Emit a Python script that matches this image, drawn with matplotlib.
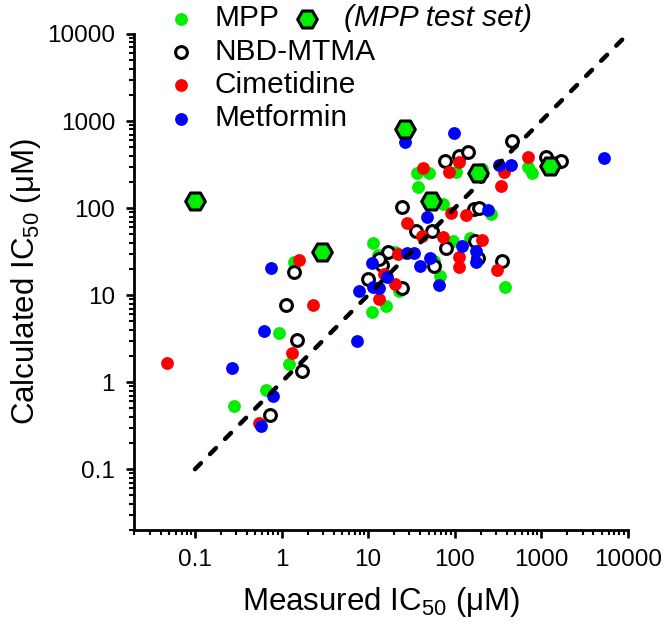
import matplotlib
matplotlib.use("Agg")
import matplotlib.pyplot as plt
from matplotlib.ticker import FixedLocator, LogLocator, NullFormatter

plt.rcParams['font.family'] = ['Liberation Sans', 'DejaVu Sans']
plt.rcParams['mathtext.fontset'] = 'custom'
plt.rcParams['mathtext.rm'] = 'Liberation Sans'
plt.rcParams['mathtext.default'] = 'regular'

# measured vs calculated IC50 (uM)
mpp_x = [36.4, 50.1, 103, 205, 697, 774, 37.4, 72.7, 260, 11.3, 94.8, 149, 20.3, 12.9,
         57.2, 67.1, 378, 22.6, 11.0, 16.0, 1.38, 0.93, 1.21, 0.67, 0.28]
mpp_y = [252, 252, 259, 280, 295, 252, 174, 111, 85, 39.5, 41.7, 45, 31.2, 28.8,
         24.6, 16.5, 12.4, 11.1, 6.4, 7.5, 23.9, 3.66, 1.61, 0.81, 0.53]

nbd_x = [455, 76.6, 111, 141, 1124, 1675, 24.4, 166, 189, 35.5, 54.2, 78.7, 170, 16.8,
         14.4, 57.2, 184, 349, 9.9, 24.4, 1.12, 1.38, 1.50, 1.71, 0.73, 13.3]
nbd_y = [588, 346, 395, 439, 385, 346, 102.6, 97, 99.8, 54.3, 54.3, 34.7, 41.7, 31.2,
         22.1, 21.5, 26.6, 24.6, 15.3, 12.0, 7.7, 18.4, 3.04, 1.34, 0.42, 25.9]

cim_x = [111, 42.7, 85.3, 368, 697, 340, 89.9, 134, 27.9, 41.6, 72.7, 205, 22.0, 111,
         111, 305, 15.1, 20.3, 13.3, 2.29, 1.58, 1.31, 0.047, 0.55]
cim_y = [337, 288, 259, 259, 385, 179, 87.5, 83, 67, 47.6, 46.4, 42.8, 29.6, 27.3,
         21, 19.4, 17.4, 13.4, 9.0, 7.7, 25.2, 2.15, 1.65, 0.34]

met_x = [26.5, 97.3, 322, 443, 5250, 47.5, 240, 120, 27.9, 33.6, 51.4, 175, 175, 39.4,
         11.0, 16.4, 65.3, 7.8, 11.3, 13.3, 7.4, 0.75, 0.62, 0.27, 0.79, 0.58]
met_y = [572, 726, 311, 311, 375, 78.7, 94.7, 36.5, 30.4, 30.4, 26.6, 32, 23.9, 21.5,
         23.3, 16.1, 13.0, 11.1, 12.4, 12.0, 2.96, 20.4, 3.86, 1.45, 0.69, 0.31]

test_x = [0.1, 2.91, 26.5, 52.8, 184, 1250]
test_y = [120, 31.2, 807, 120, 252, 303]

unity = [0.1, 10000]
ticks = [0.1, 1, 10, 100, 1000, 10000]
tick_labels = ['0.1', '1', '10', '100', '1000', '10000']

fig = plt.figure(figsize=(6.7, 6.25), dpi=100)
ax = fig.add_axes([0.2007, 0.152, 0.7363, 0.7936])

dot = 85
h1 = ax.scatter(mpp_x, mpp_y, s=dot, c='#00ee00', lw=0, zorder=2, clip_on=False)
h2 = ax.scatter(nbd_x, nbd_y, s=dot * 0.85, facecolors='white', edgecolors='black',
                lw=2.2, zorder=3, clip_on=False)
h3 = ax.scatter(cim_x, cim_y, s=dot, c='#ff0000', lw=0, zorder=4, clip_on=False)
h4 = ax.scatter(met_x, met_y, s=dot, c='#0000ff', lw=0, zorder=5, clip_on=False)
ax.plot(unity, unity, color='black', lw=3.2, dashes=(1.9, 2.9),
        dash_capstyle='round', zorder=6, clip_on=False)
h5 = ax.scatter(test_x, test_y, s=200, marker='H', c='#00ee00', edgecolors='black',
                lw=2.2, zorder=7, clip_on=False)

ax.set_xscale('log')
ax.set_yscale('log')
ax.set_xlim(0.02, 10000)
ax.set_ylim(0.02, 10000)

for axis in (ax.xaxis, ax.yaxis):
    axis.set_major_locator(FixedLocator(ticks))
    axis.set_minor_locator(LogLocator(base=10, subs=range(2, 10), numticks=20))
    axis.set_minor_formatter(NullFormatter())
ax.set_xticklabels(tick_labels)
ax.set_yticklabels(tick_labels)

for side in ('top', 'right'):
    ax.spines[side].set_visible(False)
for side in ('left', 'bottom'):
    ax.spines[side].set_linewidth(2.0)

ax.tick_params(which='major', length=6, width=1.9, labelsize=17.5, pad=8)
ax.tick_params(which='minor', length=3.5, width=1.5)

ax.set_xlabel('Measured IC$_{50}$ (\u03bcM)', fontsize=22.5, labelpad=10)
ax.set_ylabel('Calculated IC$_{50}$ (\u03bcM)', fontsize=22.5, labelpad=3)

leg1 = fig.legend([h1, h2, h3, h4], ['MPP', 'NBD-MTMA', 'Cimetidine', 'Metformin'],
                  loc='upper left', bbox_to_anchor=(0.253, 0.993), frameon=False,
                  fontsize=21.5, handlelength=0.8, handletextpad=0.7,
                  labelspacing=0.18, borderpad=0, borderaxespad=0)
leg2 = fig.legend([h5], ['(MPP test set)'], loc='upper left',
                  bbox_to_anchor=(0.441, 0.993), frameon=False, fontsize=21.5,
                  handlelength=0.8, handletextpad=0.83, borderpad=0, borderaxespad=0)
for t in leg2.get_texts():
    t.set_fontstyle('italic')

fig.savefig('out.png', dpi=100)
